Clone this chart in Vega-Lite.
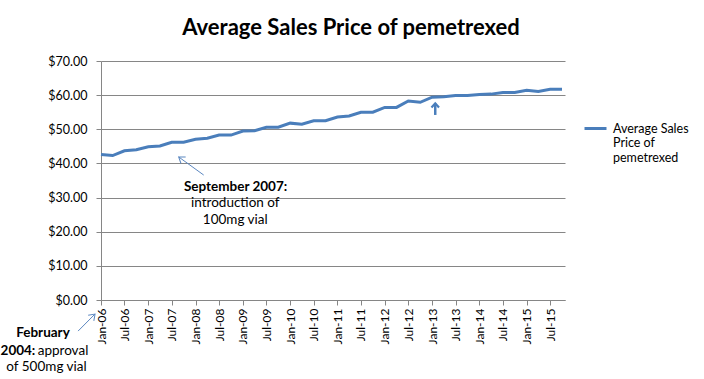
{
  "$schema": "https://vega.github.io/schema/vega-lite/v6.json",
  "width": 464,
  "height": 239,
  "autosize": {"type": "none"},
  "padding": {"left": 101, "top": 61, "right": 139, "bottom": 79},
  "background": "white",
  "title": {
    "text": "Average Sales Price of pemetrexed",
    "font": "Lato",
    "fontSize": 22,
    "fontWeight": "bold",
    "color": "#000000",
    "anchor": "middle",
    "baseline": "alphabetic",
    "dx": 18,
    "offset": -2
  },
  "config": {
    "view": {"stroke": null},
    "axis": {"labelFont": "Lato", "labelColor": "#000000", "titleFont": "Lato"},
    "legend": {"labelFont": "Lato"}
  },
  "datasets": {
    "prices": [
      {"date": "2006-01-01", "price": 42.6},
      {"date": "2006-04-01", "price": 42.3},
      {"date": "2006-07-01", "price": 43.7},
      {"date": "2006-10-01", "price": 44.0},
      {"date": "2007-01-01", "price": 44.9},
      {"date": "2007-04-01", "price": 45.1},
      {"date": "2007-07-01", "price": 46.2},
      {"date": "2007-10-01", "price": 46.2},
      {"date": "2008-01-01", "price": 47.1},
      {"date": "2008-04-01", "price": 47.4},
      {"date": "2008-07-01", "price": 48.3},
      {"date": "2008-10-01", "price": 48.3},
      {"date": "2009-01-01", "price": 49.5},
      {"date": "2009-04-01", "price": 49.6},
      {"date": "2009-07-01", "price": 50.6},
      {"date": "2009-10-01", "price": 50.6},
      {"date": "2010-01-01", "price": 51.8},
      {"date": "2010-04-01", "price": 51.5},
      {"date": "2010-07-01", "price": 52.5},
      {"date": "2010-10-01", "price": 52.5},
      {"date": "2011-01-01", "price": 53.6},
      {"date": "2011-04-01", "price": 53.9},
      {"date": "2011-07-01", "price": 55.0},
      {"date": "2011-10-01", "price": 55.0},
      {"date": "2012-01-01", "price": 56.4},
      {"date": "2012-04-01", "price": 56.4},
      {"date": "2012-07-01", "price": 58.3},
      {"date": "2012-10-01", "price": 57.9},
      {"date": "2013-01-01", "price": 59.4},
      {"date": "2013-04-01", "price": 59.5},
      {"date": "2013-07-01", "price": 59.9},
      {"date": "2013-10-01", "price": 59.9},
      {"date": "2014-01-01", "price": 60.2},
      {"date": "2014-04-01", "price": 60.3},
      {"date": "2014-07-01", "price": 60.8},
      {"date": "2014-10-01", "price": 60.8},
      {"date": "2015-01-01", "price": 61.4},
      {"date": "2015-04-01", "price": 61.1},
      {"date": "2015-07-01", "price": 61.7},
      {"date": "2015-10-01", "price": 61.7}
    ],
    "arrows": [
      {"arrow": "sep2007", "date": "2008-03-04", "value": 36.6, "date2": "2007-08-24", "value2": 41.9},
      {"arrow": "feb2004", "date": "2005-07-08", "value": -9.1, "date2": "2005-11-16", "value2": -4.1},
      {"arrow": "jan2013", "date": "2013-01-25", "value": 54.2, "date2": "2013-01-25", "value2": 57.6}
    ],
    "notes": [
      {"text": "September 2007:", "date": "2008-11-05", "value": 33.2},
      {"text": "introduction of", "date": "2008-11-03", "value": 28.3},
      {"text": "100mg vial", "date": "2008-11-03", "value": 23.4},
      {"text": "February", "date": "2004-10-10", "value": -9.75},
      {"text": "2004:", "date": "2004-08-12", "value": -14.9},
      {"text": "approval", "date": "2004-08-30", "value": -14.9},
      {"text": "of 500mg vial", "date": "2004-11-06", "value": -19.6}
    ]
  },
  "encoding": {
    "x": {
      "field": "date",
      "type": "temporal",
      "scale": {
        "type": "utc",
        "domain": [
          {"year": 2006, "month": 1, "date": 1, "utc": true},
          {"year": 2015, "month": 10, "date": 24, "utc": true}
        ]
      },
      "axis": {
        "title": null,
        "labelExpr": "utcFormat(datum.value, '%b-%y')",
        "tickCount": {"interval": "month", "step": 6},
        "labelAngle": 270,
        "labelFontSize": 12,
        "labelPadding": 3,
        "tickSize": 5,
        "tickColor": "#868686",
        "domainColor": "#868686",
        "grid": false,
        "labelOverlap": false,
        "labelFlush": false
      }
    },
    "y": {
      "field": "value",
      "type": "quantitative",
      "scale": {"domain": [0, 70], "nice": false, "zero": true},
      "axis": {
        "title": null,
        "values": [0, 10, 20, 30, 40, 50, 60, 70],
        "format": "$.2f",
        "labelFontSize": 12.5,
        "labelPadding": 9,
        "tickSize": 5,
        "tickColor": "#868686",
        "domainColor": "#868686",
        "grid": true,
        "gridColor": "#868686",
        "gridWidth": 1
      }
    }
  },
  "layer": [
    {
      "data": {"name": "prices"},
      "mark": {"type": "line", "strokeWidth": 3, "clip": false},
      "encoding": {
        "y": {"field": "price", "type": "quantitative"},
        "color": {
          "datum": "Average Sales Price of pemetrexed",
          "type": "nominal",
          "scale": {"range": ["#4A7EBB"]},
          "legend": {
            "title": null,
            "orient": "none",
            "legendX": 482,
            "legendY": 55,
            "symbolType": "stroke",
            "symbolStrokeWidth": 3,
            "symbolSize": 484,
            "labelFontSize": 12.5,
            "labelColor": "#000000",
            "labelOffset": 5,
            "labelLineHeight": 16,
            "labelBaseline": "middle",
            "labelLimit": 200,
            "labelExpr": "['Average Sales', 'Price of', 'pemetrexed']"
          }
        }
      }
    },
    {
      "data": {"name": "arrows"},
      "transform": [{"filter": "datum.arrow !== 'jan2013'"}],
      "mark": {"type": "rule", "stroke": "#5B87C0", "strokeWidth": 1},
      "encoding": {
        "x2": {"field": "date2"},
        "y2": {"field": "value2"}
      }
    },
    {
      "data": {"name": "arrows"},
      "transform": [{"filter": "datum.arrow === 'jan2013'"}],
      "mark": {"type": "rule", "stroke": "#4A7EBB", "strokeWidth": 2.5},
      "encoding": {
        "x2": {"field": "date2"},
        "y2": {"field": "value2"}
      }
    },
    {
      "data": {"name": "arrows"},
      "transform": [{"filter": "datum.arrow === 'sep2007'"}],
      "mark": {"type": "point", "shape": "M-0.7,1L0,0L0.7,1", "size": 130, "angle": 306, "filled": false, "stroke": "#5B87C0", "strokeWidth": 1, "opacity": 1},
      "encoding": {
        "x": {"field": "date2", "type": "temporal"},
        "y": {"field": "value2", "type": "quantitative"}
      }
    },
    {
      "data": {"name": "arrows"},
      "transform": [{"filter": "datum.arrow === 'feb2004'"}],
      "mark": {"type": "point", "shape": "M-0.7,1L0,0L0.7,1", "size": 130, "angle": 45, "filled": false, "stroke": "#5B87C0", "strokeWidth": 1, "opacity": 1},
      "encoding": {
        "x": {"field": "date2", "type": "temporal"},
        "y": {"field": "value2", "type": "quantitative"}
      }
    },
    {
      "data": {"name": "arrows"},
      "transform": [{"filter": "datum.arrow === 'jan2013'"}],
      "mark": {"type": "point", "shape": "M-0.9,1L0,0L0.9,1", "size": 70, "angle": 0, "filled": false, "stroke": "#4A7EBB", "strokeWidth": 2.2, "opacity": 1},
      "encoding": {
        "x": {"field": "date2", "type": "temporal"},
        "y": {"field": "value2", "type": "quantitative"}
      }
    },
    {
      "data": {"name": "notes"},
      "transform": [{"filter": {"field": "text", "oneOf": ["September 2007:", "February"]}}],
      "mark": {"type": "text", "font": "Lato", "fontSize": 13.5, "fontWeight": "bold", "color": "#000000", "align": "center", "baseline": "middle"},
      "encoding": {"text": {"field": "text"}}
    },
    {
      "data": {"name": "notes"},
      "transform": [{"filter": {"field": "text", "oneOf": ["introduction of", "100mg vial", "of 500mg vial"]}}],
      "mark": {"type": "text", "font": "Lato", "fontSize": 13.5, "color": "#000000", "align": "center", "baseline": "middle"},
      "encoding": {"text": {"field": "text"}}
    },
    {
      "data": {"name": "notes"},
      "transform": [{"filter": {"field": "text", "oneOf": ["2004:"]}}],
      "mark": {"type": "text", "font": "Lato", "fontSize": 13.5, "fontWeight": "bold", "color": "#000000", "align": "right", "baseline": "middle"},
      "encoding": {"text": {"field": "text"}}
    },
    {
      "data": {"name": "notes"},
      "transform": [{"filter": {"field": "text", "oneOf": ["approval"]}}],
      "mark": {"type": "text", "font": "Lato", "fontSize": 13.5, "color": "#000000", "align": "left", "baseline": "middle"},
      "encoding": {"text": {"field": "text"}}
    }
  ]
}
